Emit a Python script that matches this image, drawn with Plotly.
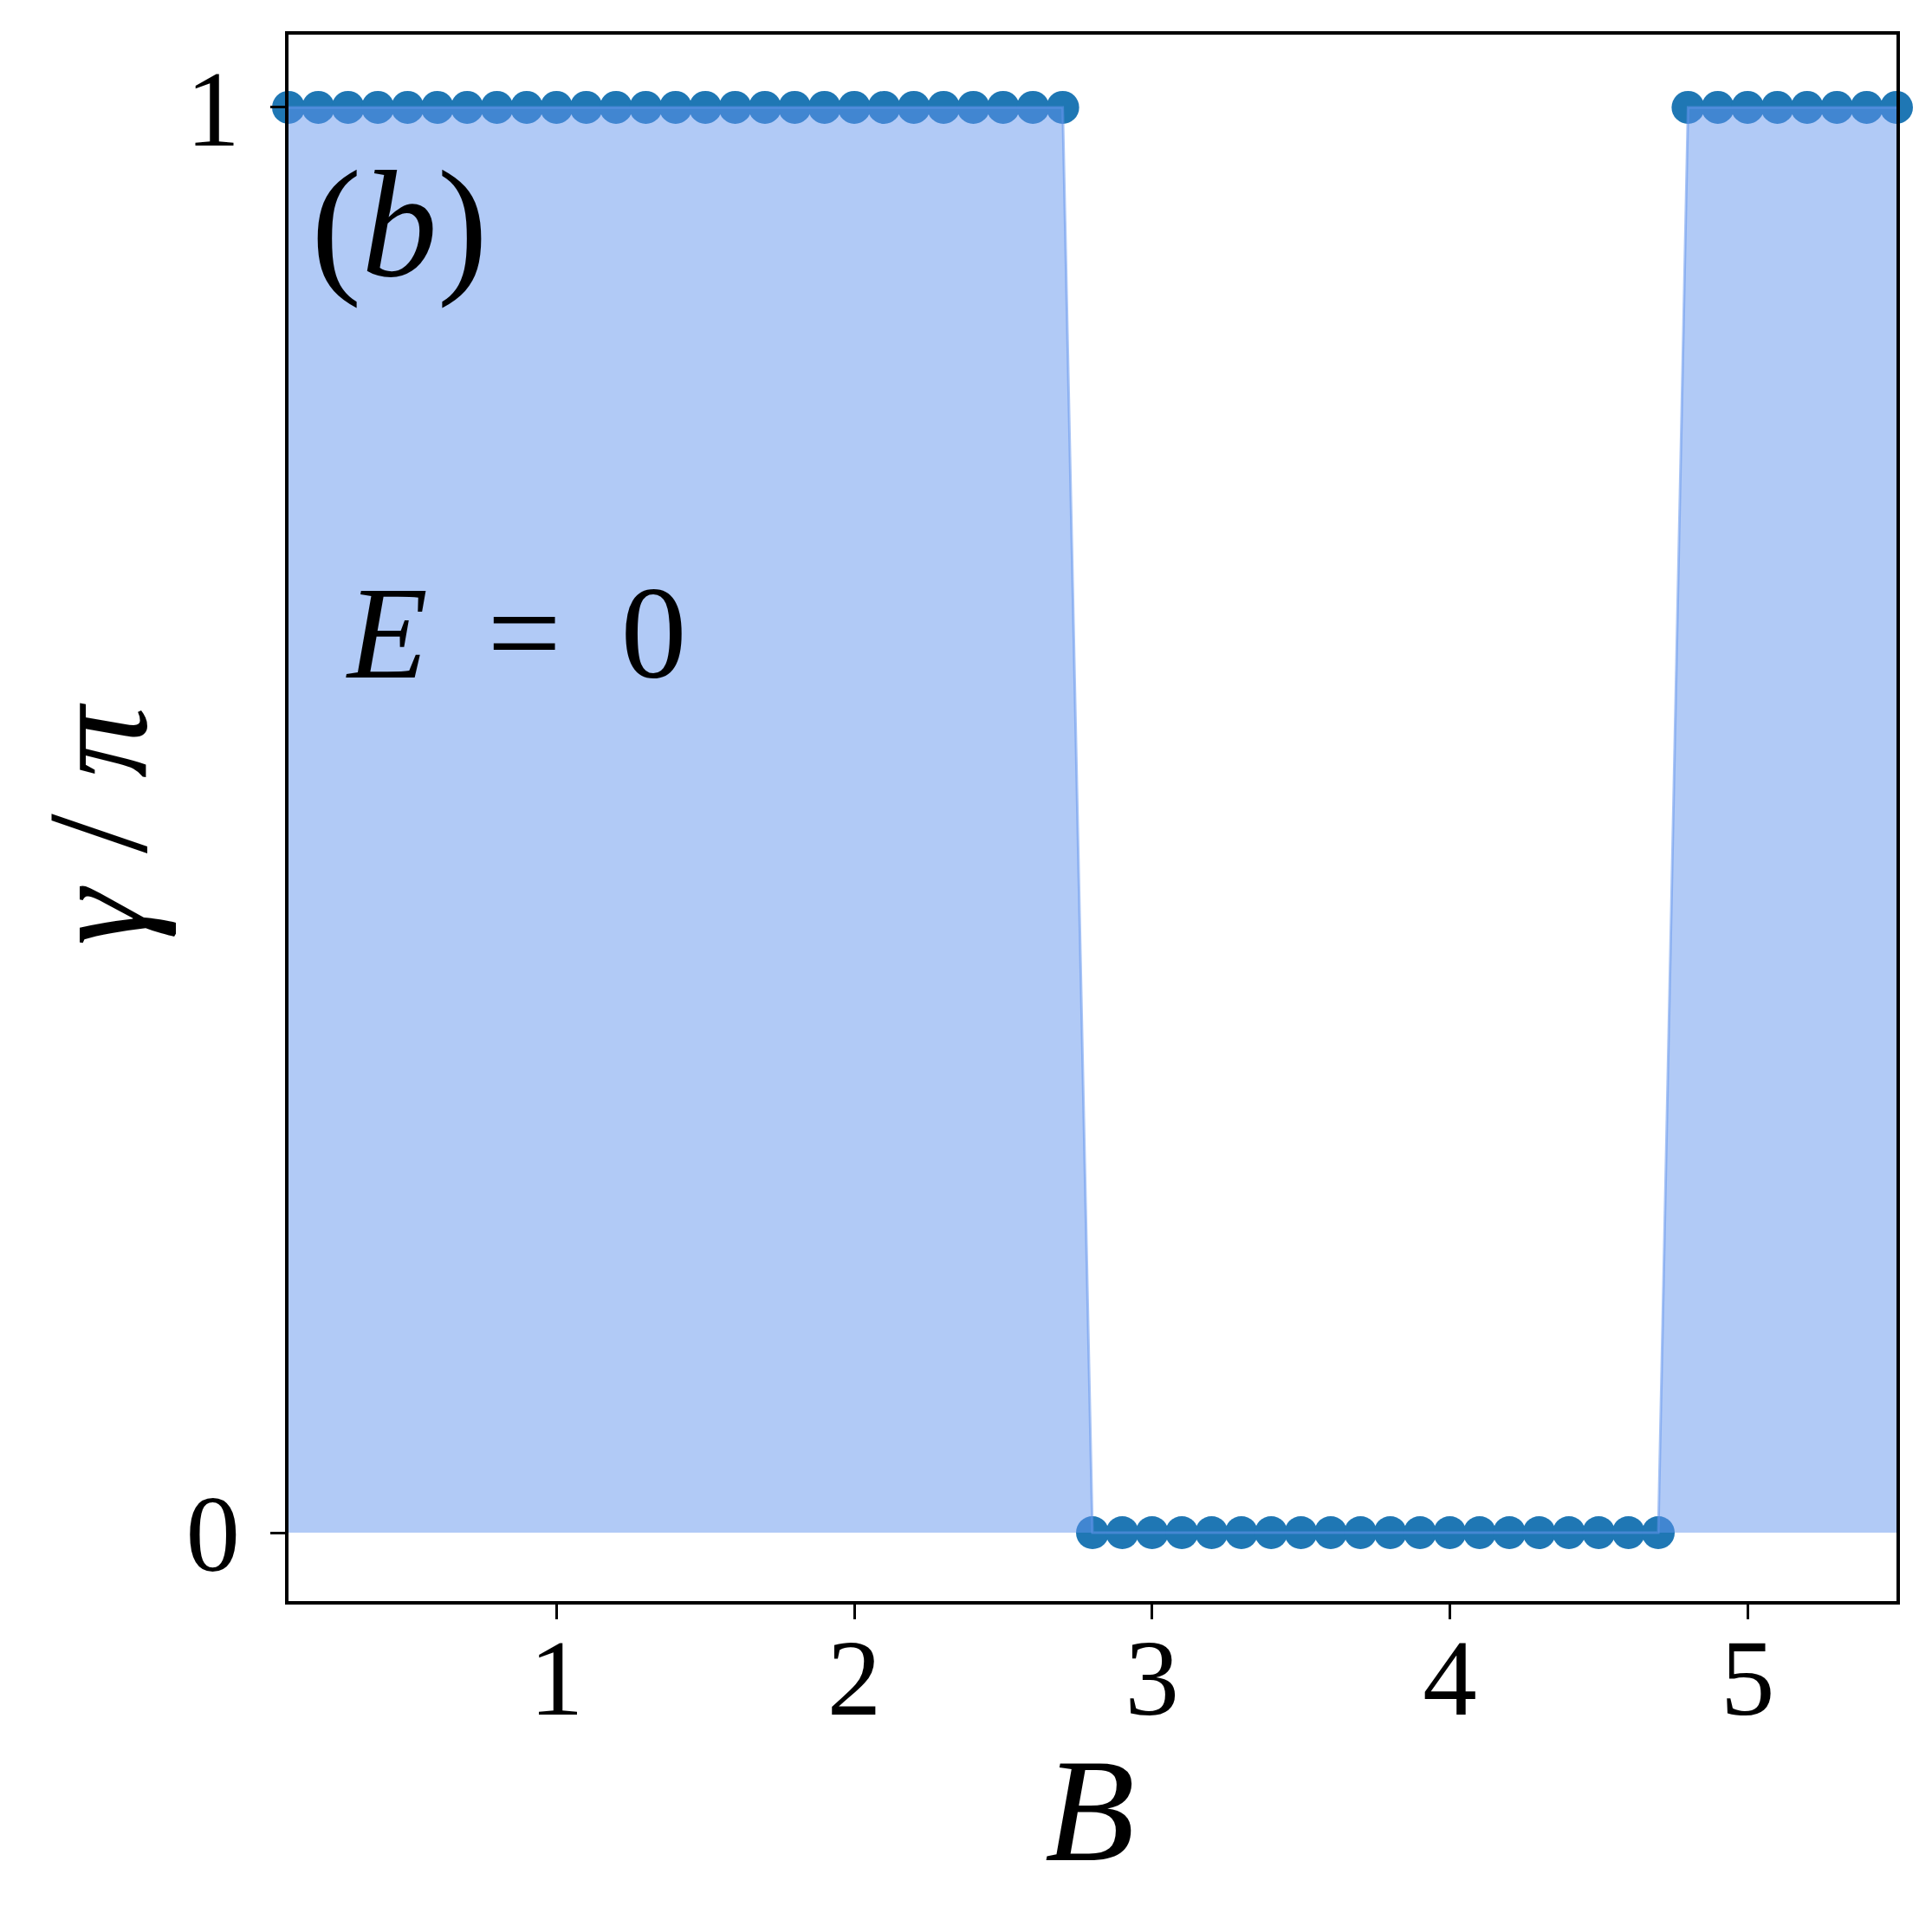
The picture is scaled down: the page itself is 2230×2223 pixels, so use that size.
import plotly.graph_objects as go

# B values (x) and gamma/pi values
b_vals = [0.1, 0.2, 0.3, 0.4, 0.5, 0.6, 0.7, 0.8, 0.9, 1.0,
          1.1, 1.2, 1.3, 1.4, 1.5, 1.6, 1.7, 1.8, 1.9, 2.0,
          2.1, 2.2, 2.3, 2.4, 2.5, 2.6, 2.7, 2.8, 2.9, 3.0,
          3.1, 3.2, 3.3, 3.4, 3.5, 3.6, 3.7, 3.8, 3.9, 4.0,
          4.1, 4.2, 4.3, 4.4, 4.5, 4.6, 4.7, 4.8, 4.9, 5.0,
          5.1, 5.2, 5.3, 5.4, 5.5]
gamma_vals = [1, 1, 1, 1, 1, 1, 1, 1, 1, 1,
              1, 1, 1, 1, 1, 1, 1, 1, 1, 1,
              1, 1, 1, 1, 1, 1, 1, 0, 0, 0,
              0, 0, 0, 0, 0, 0, 0, 0, 0, 0,
              0, 0, 0, 0, 0, 0, 0, 1, 1, 1,
              1, 1, 1, 1, 1]

x_ticks = [1, 2, 3, 4, 5]
y_ticks = [0, 1]

FONT = "Liberation Serif"

fig = go.Figure()

# markers first, the translucent fill goes on top of them
fig.add_trace(
    go.Scatter(
        x=b_vals,
        y=gamma_vals,
        mode="markers",
        marker=dict(size=38, color="#1f77b4", line=dict(width=0)),
        cliponaxis=False,
        showlegend=False,
    )
)
fig.add_trace(
    go.Scatter(
        x=b_vals,
        y=gamma_vals,
        mode="lines",
        fill="tozeroy",
        fillcolor="rgba(100,149,237,0.5)",
        line=dict(color="rgba(100,149,237,0.55)", width=3),
        showlegend=False,
    )
)

axis_common = dict(
    showgrid=False,
    zeroline=False,
    showline=True,
    linecolor="black",
    linewidth=4,
    mirror=True,
    ticks="outside",
    ticklen=17,
    tickwidth=3,
    tickcolor="black",
    tickfont=dict(family=FONT, size=125, color="black"),
)

fig.update_xaxes(range=[0.1, 5.5], tickvals=x_ticks, ticklabelstandoff=-40, **axis_common)
fig.update_yaxes(range=[-0.048, 1.051], tickvals=y_ticks, ticklabelstandoff=10, **axis_common)

fig.add_annotation(
    x=0.17, y=0.918, xref="x", yref="y",
    text="(<i>b</i>)", showarrow=False, xanchor="left", yanchor="middle",
    font=dict(family=FONT, size=175, color="black"),
)
fig.add_annotation(
    x=0.285, y=0.631, xref="x", yref="y",
    text="<i>E</i>\u2009 = \u20090", showarrow=False, xanchor="left", yanchor="middle",
    font=dict(family=FONT, size=152, color="black"),
)
fig.add_annotation(
    x=2.79, y=-0.134, xref="x", yref="paper",
    text="<i>B</i>", showarrow=False, xanchor="center", yanchor="middle",
    font=dict(family=FONT, size=170, color="black"),
)
fig.add_annotation(
    x=-0.119, y=0.496, xref="paper", yref="paper",
    text="<i>γ</i> / <i>π</i>", showarrow=False, textangle=-90,
    xanchor="center", yanchor="middle",
    font=dict(family=FONT, size=165, color="black"),
)

fig.update_layout(
    width=2230,
    height=2223,
    margin=dict(l=325, r=49, t=32, b=383),
    plot_bgcolor="white",
    paper_bgcolor="white",
)

fig.write_html("out.html")
